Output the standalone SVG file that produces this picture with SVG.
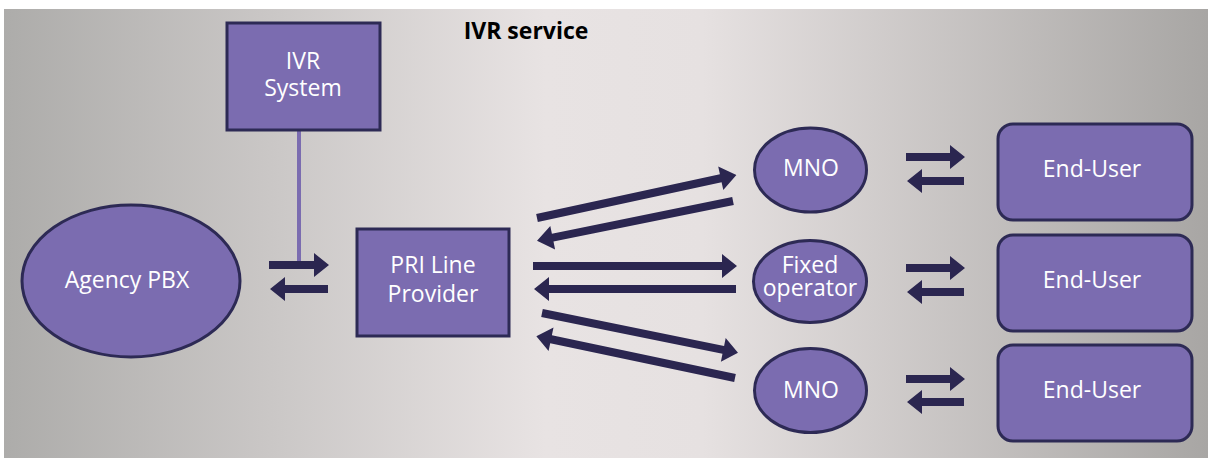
<svg xmlns="http://www.w3.org/2000/svg" width="1208" height="459" viewBox="0 0 1208 459">
<defs>
<linearGradient id="bg" x1="0" y1="0" x2="1" y2="0">
<stop offset="0" stop-color="#adacaa"/>
<stop offset="0.45" stop-color="#e8e3e3"/>
<stop offset="0.58" stop-color="#e6e1e1"/>
<stop offset="1" stop-color="#a8a6a4"/>
</linearGradient>
</defs>
<style>
.n{fill:#7b6cb0;stroke:#2d2a55;stroke-width:3}
.t{fill:#ffffff;font-family:"Open Sans",Lato,sans-serif;font-size:23px;text-anchor:middle}
.ar{fill:#2b2650}
</style>
<rect x="0" y="0" width="1208" height="459" fill="#ffffff"/>
<rect x="4" y="9" width="1204" height="449" fill="url(#bg)"/>
<text x="526" y="39" font-family="'Open Sans',Lato,sans-serif" font-size="23" font-weight="bold" text-anchor="middle" fill="#000">IVR service</text>
<g id="connectors">
<line x1="299" y1="131" x2="299" y2="262" stroke="#7b6cb0" stroke-width="4"/>
<g class="ar">
<path transform="translate(269,265)" d="M0,-4 L45,-4 L45,-12 L60,0 L45,12 L45,4 L0,4 Z"/>
<path transform="translate(328,289) rotate(180)" d="M0,-4 L43,-4 L43,-12 L58,0 L43,12 L43,4 L0,4 Z"/>
<path transform="translate(537,218) rotate(-12.2)" d="M0,-4 L188,-4 L188,-12 L204,0 L188,12 L188,4 L0,4 Z"/>
<path transform="translate(733,201) rotate(168.5)" d="M0,-4 L184,-4 L184,-12 L200,0 L184,12 L184,4 L0,4 Z"/>
<path transform="translate(533,266)" d="M0,-4 L189,-4 L189,-12 L204,0 L189,12 L189,4 L0,4 Z"/>
<path transform="translate(736,289) rotate(180)" d="M0,-4 L187,-4 L187,-12 L202,0 L187,12 L187,4 L0,4 Z"/>
<path transform="translate(542,313) rotate(11.5)" d="M0,-4 L185,-4 L185,-12 L200,0 L185,12 L185,4 L0,4 Z"/>
<path transform="translate(735,378) rotate(-168.1)" d="M0,-4 L188,-4 L188,-12 L203,0 L188,12 L188,4 L0,4 Z"/>
<path transform="translate(906,157)" d="M0,-4 L44,-4 L44,-12 L59,0 L44,12 L44,4 L0,4 Z"/>
<path transform="translate(964,181) rotate(180)" d="M0,-4 L42,-4 L42,-12 L57,0 L42,12 L42,4 L0,4 Z"/>
<path transform="translate(906,268)" d="M0,-4 L44,-4 L44,-12 L59,0 L44,12 L44,4 L0,4 Z"/>
<path transform="translate(964,292) rotate(180)" d="M0,-4 L42,-4 L42,-12 L57,0 L42,12 L42,4 L0,4 Z"/>
<path transform="translate(906,379)" d="M0,-4 L44,-4 L44,-12 L59,0 L44,12 L44,4 L0,4 Z"/>
<path transform="translate(964,402) rotate(180)" d="M0,-4 L42,-4 L42,-12 L57,0 L42,12 L42,4 L0,4 Z"/>
</g>
</g>
<g id="ivr">
<rect class="n" x="227" y="23" width="153" height="107"/>
<text class="t" x="303" y="69">IVR</text>
<text class="t" x="303" y="96">System</text>
</g>
<g id="pbx">
<ellipse class="n" cx="131" cy="281" rx="109" ry="76"/>
<text class="t" x="127" y="288">Agency PBX</text>
</g>
<g id="pri">
<rect class="n" x="357" y="229" width="152" height="107"/>
<text class="t" x="433" y="273">PRI Line</text>
<text class="t" x="433" y="302">Provider</text>
</g>
<g id="mno1">
<ellipse class="n" cx="810.5" cy="170" rx="56" ry="42"/>
<text class="t" x="811" y="176">MNO</text>
</g>
<g id="fixed">
<ellipse class="n" cx="810" cy="281.5" rx="56.5" ry="41"/>
<text class="t" x="810" y="273">Fixed</text>
<text class="t" x="810" y="296">operator</text>
</g>
<g id="mno2">
<ellipse class="n" cx="810.5" cy="390.5" rx="56" ry="42"/>
<text class="t" x="811" y="398">MNO</text>
</g>
<g id="eu1">
<rect class="n" x="998" y="124" width="194" height="96" rx="15"/>
<text class="t" x="1092" y="177">End-User</text>
</g>
<g id="eu2">
<rect class="n" x="998" y="235" width="194" height="96" rx="15"/>
<text class="t" x="1092" y="288">End-User</text>
</g>
<g id="eu3">
<rect class="n" x="998" y="345" width="194" height="96" rx="15"/>
<text class="t" x="1092" y="398">End-User</text>
</g>
</svg>
